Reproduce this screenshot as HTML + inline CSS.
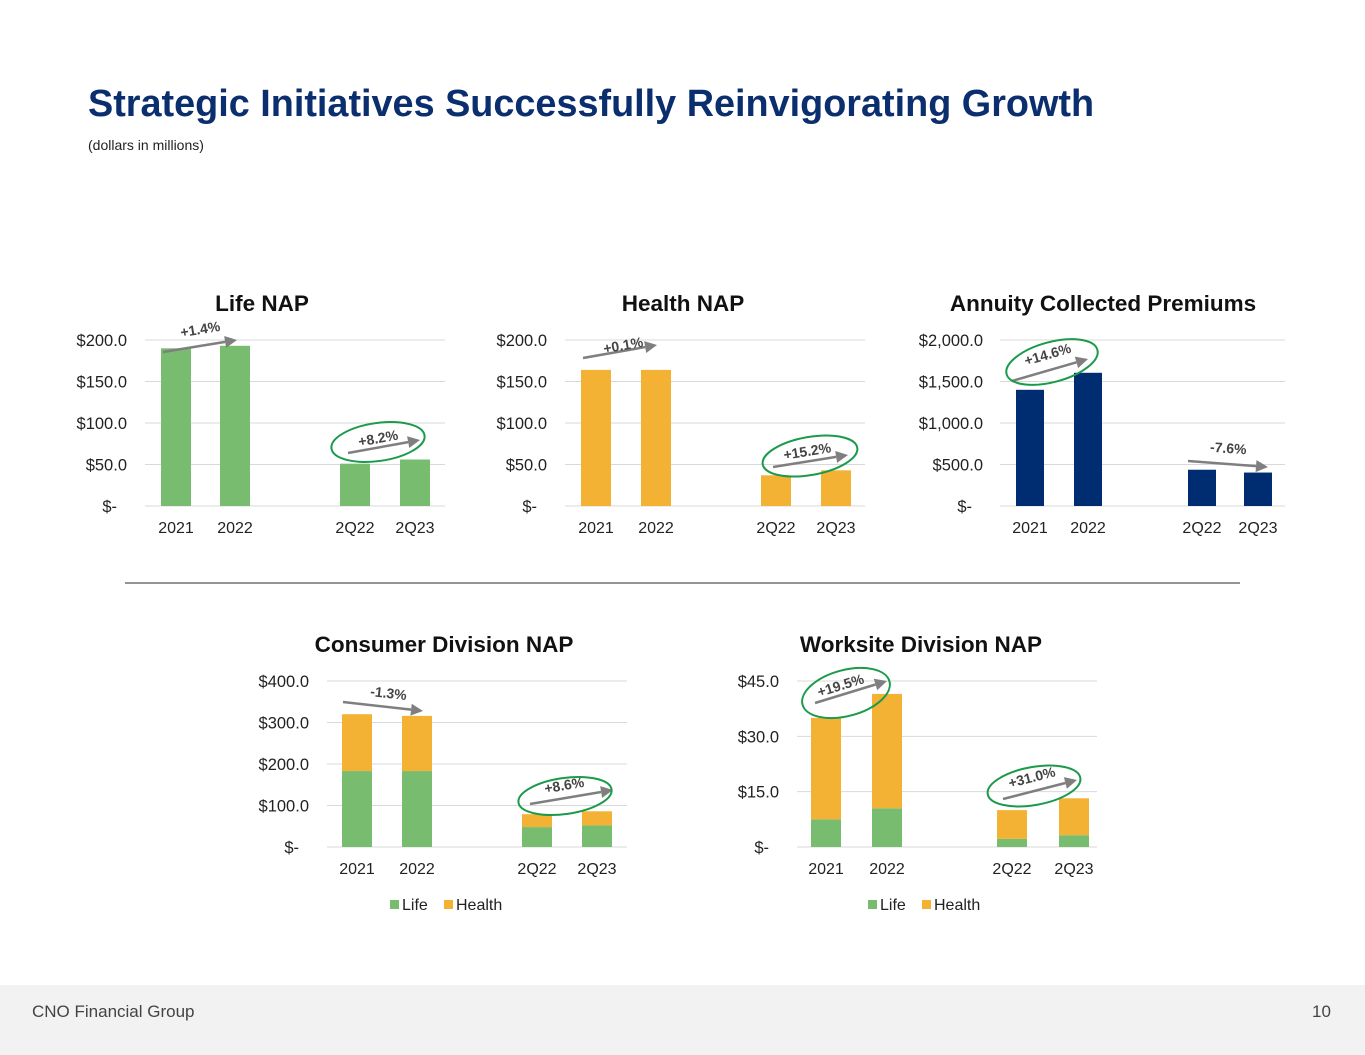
<!DOCTYPE html>
<html><head><meta charset="utf-8"><style>
body{margin:0;width:1365px;height:1055px;background:#fff;font-family:"Liberation Sans",Arial,sans-serif;overflow:hidden;position:relative}
#title{position:absolute;left:88px;top:83px;font-size:37.8px;font-weight:bold;color:#0b2e6f;margin:0;white-space:nowrap}
#sub{position:absolute;left:88px;top:137px;font-size:14px;color:#222}
#footer{position:absolute;left:0;top:985px;width:1365px;height:70px;background:#f2f2f2}
#footer span{position:absolute;top:17px;font-size:17px;color:#444}
svg{position:absolute;left:0;top:0}
</style></head><body>
<h1 id="title">Strategic Initiatives Successfully Reinvigorating Growth</h1>
<div id="sub">(dollars in millions)</div>
<div id="footer"><span style="left:32px">CNO Financial Group</span><span style="left:1312px">10</span></div>
<svg id="s" width="1365" height="1055">
<line x1="125" y1="583" x2="1240" y2="583" stroke="#555" stroke-width="1.2"/>
</svg>
<script>
const cats=["2021","2022","2Q22","2Q23"];
const lifeNap=[190,193,51,56];
const healthNap=[164,164,37,43];
const annuity=[1400,1605,437,403];
const consumerLife=[183,183,48,52];
const consumerHealth=[137,133,31,34];
const worksiteLife=[7.5,10.5,2.2,3.2];
const worksiteHealth=[27.5,31,7.8,10];
const lifeTicks=["$-","$50.0","$100.0","$150.0","$200.0"];
const annTicks=["$-","$500.0","$1,000.0","$1,500.0","$2,000.0"];
const consTicks=["$-","$100.0","$200.0","$300.0","$400.0"];
const workTicks=["$-","$15.0","$30.0","$45.0"];
const GREEN="#77bc6f",ORANGE="#f3b234",NAVY="#002d72";
const s=document.getElementById('s');
const NS="http://www.w3.org/2000/svg";
function mk(tag,attrs,parent){const e=document.createElementNS(NS,tag);for(const k in attrs)e.setAttribute(k,attrs[k]);(parent||s).appendChild(e);return e;}
function chart(o){
  const g=mk('g',{});
  
  
  const y=v=>o.y0-(v/o.max)*(o.y0-o.yTop);
  const n=o.ticks.length;
  o.ticks.forEach((t,i)=>{
    const v=o.max*i/(n-1),yy=y(v);
    const l=mk('line',{x1:o.gx1,x2:o.gx2,y1:yy,y2:yy,stroke:'#d9d9d9','stroke-width':1},g);
    
    
    const off=(i===0)?o.dashOff:o.labOff;
    const tx=mk('text',{x:o.gx1-off,y:yy+6,'text-anchor':'end','font-size':16.5,fill:'#222'},g);tx.textContent=t;
    
    
  });
  cats.forEach((c,i)=>{
    const cx=o.centers[i];let base=0;
    o.series.forEach((ser,si)=>{
      const v=ser[i];
      const r=mk('rect',{x:cx-o.bw/2,y:y(base+v),width:o.bw,height:y(base)-y(base+v),fill:o.colors[si]},g);
      
      
      base+=v;
    });
    const t=mk('text',{x:cx,y:o.y0+27,'text-anchor':'middle','font-size':16,fill:'#222'},g);t.textContent=c;
    
    
  });
  const ti=mk('text',{x:o.tx,y:o.ty,'text-anchor':'middle','font-size':22.5,'font-weight':'bold',fill:'#111'},g);ti.textContent=o.title;
  
  
  (o.ann||[]).forEach(a=>{
    const [x1,y1,x2,y2]=a.arrow;
    const ang=Math.atan2(y2-y1,x2-x1),L=12;
    mk('line',{x1:x1,y1:y1,x2:x2-L*Math.cos(ang),y2:y2-L*Math.sin(ang),stroke:'#7f7f7f','stroke-width':2.5},g);
    const px=-Math.sin(ang)*6,py=Math.cos(ang)*6,bx=x2-L*Math.cos(ang),by=y2-L*Math.sin(ang);
    const p=mk('polygon',{points:`${x2},${y2} ${bx+px},${by+py} ${bx-px},${by-py}`,fill:'#7f7f7f'},g);
    
    
    const deg=ang*180/Math.PI;
    const t=mk('text',{x:a.lx,y:a.ly-3,'text-anchor':'middle','font-size':14,'font-weight':'bold',fill:'#444',transform:`rotate(${deg} ${a.lx} ${a.ly-3})`},g);t.textContent=a.label;
    
    
    if(a.ell){const[ex,ey,rx,ry,rot]=a.ell;const e=mk('ellipse',{cx:ex,cy:ey,rx:rx,ry:ry,fill:'none',stroke:'#1a9a4a','stroke-width':2,transform:`rotate(${rot} ${ex} ${ey})`},g);
      
      }
  });
  if(o.legend){
    const lx=o.legend[0],ly=o.legend[1];
    [["Life",GREEN,0],["Health",ORANGE,54]].forEach(([n,c,dx])=>{
      const r=mk('rect',{x:lx+dx,y:ly-10,width:9,height:9,fill:c},g);
      
      
      const t=mk('text',{x:lx+dx+12,y:ly,'font-size':16,fill:'#222'},g);t.textContent=n;
      
      
    });
  }
}
chart({name:'life-nap-chart',title:'Life NAP',tx:262,ty:311,y0:506,yTop:340,max:200,gx1:145,gx2:445,labOff:18,dashOff:28,centers:[176,235,355,415],bw:30,series:[lifeNap],colors:[GREEN],ticks:lifeTicks,
 ann:[{arrow:[163,352,237,340],label:'+1.4%',lx:201,ly:337},{arrow:[348,453,420,440],label:'+8.2%',lx:379,ly:446,ell:[378,442,47,19,-8]}]});
chart({name:'health-nap-chart',title:'Health NAP',tx:683,ty:311,y0:506,yTop:340,max:200,gx1:565,gx2:865,labOff:18,dashOff:28,centers:[596,656,776,836],bw:30,series:[healthNap],colors:[ORANGE],ticks:lifeTicks,
 ann:[{arrow:[583,358,657,345],label:'+0.1%',lx:624,ly:353},{arrow:[773,467,848,455],label:'+15.2%',lx:808,ly:459,ell:[810,456,48,19,-10]}]});
chart({name:'annuity-chart',title:'Annuity Collected Premiums',tx:1103,ty:311,y0:506,yTop:340,max:2000,gx1:1000,gx2:1285,labOff:17,dashOff:28,centers:[1030,1088,1202,1258],bw:28,series:[annuity],colors:[NAVY],ticks:annTicks,
 ann:[{arrow:[1012,381,1088,359],label:'+14.6%',lx:1049,ly:362,ell:[1052,362,47,20,-15]},{arrow:[1188,461,1268,467],label:'-7.6%',lx:1228,ly:456}]});
chart({name:'consumer-nap-chart',title:'Consumer Division NAP',tx:444,ty:652,y0:847,yTop:681,max:400,gx1:327,gx2:627,labOff:18,dashOff:28,centers:[357,417,537,597],bw:30,series:[consumerLife,consumerHealth],colors:[GREEN,ORANGE],ticks:consTicks,legend:[390,910],
 ann:[{arrow:[343,702,423,711],label:'-1.3%',lx:388,ly:701},{arrow:[530,804,613,790],label:'+8.6%',lx:565,ly:793,ell:[565,796,47,18,-8]}]});
chart({name:'worksite-nap-chart',title:'Worksite Division NAP',tx:921,ty:652,y0:847,yTop:681,max:45,gx1:797,gx2:1097,labOff:18,dashOff:28,centers:[826,887,1012,1074],bw:30,series:[worksiteLife,worksiteHealth],colors:[GREEN,ORANGE],ticks:workTicks,legend:[868,910],
 ann:[{arrow:[815,703,887,681],label:'+19.5%',lx:842,ly:693,ell:[846,693,45,23,-15]},{arrow:[1003,799,1077,780],label:'+31.0%',lx:1033,ly:785,ell:[1034,786,47,19,-10]}]});
</script>
</body></html>
